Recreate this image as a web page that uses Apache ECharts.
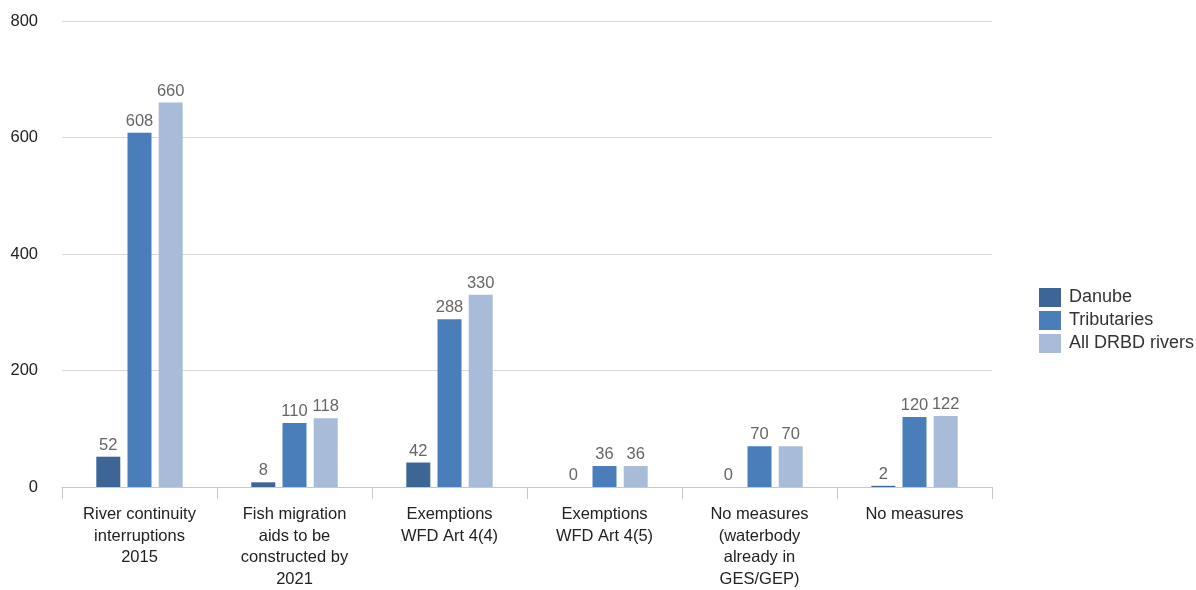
<!DOCTYPE html>
<html><head><meta charset="utf-8">
<script src="https://cdn.jsdelivr.net/npm/echarts@6/dist/echarts.min.js"></script>
<style>html,body{margin:0;padding:0;background:#fff}#c{width:1196px;height:590px}</style>
</head><body><div id="c"></div>
<script>
const categories = ["River continuity\ninterruptions\n2015","Fish migration\naids to be\nconstructed by\n2021","Exemptions\nWFD Art 4(4)","Exemptions\nWFD Art 4(5)","No measures\n(waterbody\nalready in\nGES/GEP)","No measures"];
const danube = [52, 8, 42, 0, 0, 2];
const tributaries = [608, 110, 288, 36, 70, 120];
const allRivers = [660, 118, 330, 36, 70, 122];
const seriesNames = ["Danube","Tributaries","All DRBD rivers"];
const colors = ["#3d6596","#4a7ebb","#a8bbd9"];
const font = "Liberation Sans, Arial, sans-serif";
const chart = echarts.init(document.getElementById('c'));
const mk = (name, data, i) => ({
  name, type: 'bar', data, barWidth: 24, barGap: '30%',
  itemStyle: {color: colors[i]},
  label: {show: true, position: 'top', distance: 3, color: '#666', fontSize: 16.5, fontFamily: font},
  animation: false
});
chart.setOption({
  animation: false,
  grid: {left: 62, right: 204, top: 21, bottom: 99},
  legend: {
    orient: 'vertical', left: 1034, top: 283, itemWidth: 22, itemHeight: 19, itemGap: 4,
    icon: 'rect', textStyle: {fontSize: 18, fontFamily: font, color: '#333', padding: [0,0,0,3]},
    data: seriesNames
  },
  xAxis: {
    type: 'category', data: categories,
    axisLine: {lineStyle: {color: '#c8c8c8'}},
    axisTick: {show: true, length: 12, lineStyle: {color: '#c8c8c8'}},
    axisLabel: {color: '#222', fontSize: 16.5, fontFamily: font, lineHeight: 21.5, margin: 17, interval: 0}
  },
  yAxis: {
    type: 'value', min: 0, max: 800, interval: 200,
    axisLine: {show: false}, axisTick: {show: false},
    splitLine: {lineStyle: {color: '#d9d9d9'}},
    axisLabel: {color: '#222', fontSize: 16.5, fontFamily: font, margin: 24, padding: [6,0,0,0]}
  },
  series: [mk(seriesNames[0], danube, 0), mk(seriesNames[1], tributaries, 1), mk(seriesNames[2], allRivers, 2)]
});
</script></body></html>
